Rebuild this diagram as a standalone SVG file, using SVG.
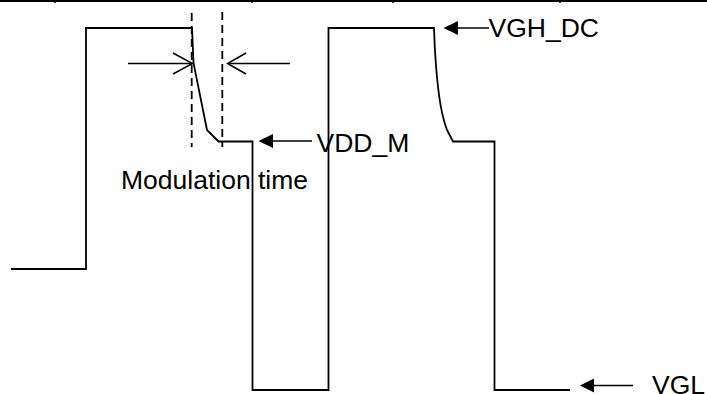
<svg xmlns="http://www.w3.org/2000/svg" width="707" height="394" viewBox="0 0 707 394">
<style>
.w{fill:none;stroke:#000;stroke-width:1.8;stroke-linejoin:miter}
.d{fill:none;stroke:#000;stroke-width:1.8;stroke-dasharray:8,5}
.a{fill:none;stroke:#000;stroke-width:1.5}
.t{font-family:"Liberation Sans",Arial,sans-serif;font-size:26.5px;fill:#000}
</style>
<g id="border">
<line x1="0" y1="1" x2="707" y2="1" stroke="#000" stroke-width="2"/>
<line x1="55" y1="0" x2="55" y2="3" stroke="#000" stroke-width="1.5"/>
<line x1="252" y1="0" x2="252" y2="3" stroke="#000" stroke-width="1.5"/>
<line x1="393" y1="0" x2="393" y2="3" stroke="#000" stroke-width="1.5"/>
<line x1="560" y1="0" x2="560" y2="3" stroke="#000" stroke-width="1.5"/>
</g>
<g id="waveform">
<path class="w" d="M11,269 H86 V28 H192 L193.5,63 L207,130 L218.5,141.5 H252.5 V390 H328.5 V28 H434 C435,60 437,80 439,95 C441,110 444,122 447,130 L453,141.5 H494.5 V390 H570"/>
</g>
<g id="dashes">
<line class="d" x1="191.7" y1="13" x2="191.7" y2="147"/>
<line class="d" x1="222.3" y1="12" x2="222.3" y2="147"/>
</g>
<g id="connectors">
<line class="a" x1="128" y1="63.5" x2="192" y2="63.5"/>
<polyline class="a" points="173,53 192.5,63.5 173,74"/>
<line class="a" x1="290" y1="63.5" x2="228" y2="63.5"/>
<polyline class="a" points="246,53 227.5,63.5 246,74"/>
<line class="a" x1="312" y1="141" x2="272" y2="141"/>
<path d="M258.5,141 L273,134 L273,148 Z" fill="#000"/>
<line class="a" x1="489" y1="28" x2="457" y2="28"/>
<path d="M443.5,28 L458,21 L458,35 Z" fill="#000"/>
<line class="a" x1="633" y1="385.5" x2="593" y2="385.5"/>
<path d="M580,385.5 L594,378.5 L594,392.5 Z" fill="#000"/>
</g>
<g id="labels">
<text class="t" x="121" y="188.5">Modulation time</text>
<text class="t" x="316.5" y="152">VDD_M</text>
<text class="t" x="488.5" y="36.5">VGH_DC</text>
<text class="t" x="652" y="394">VGL</text>
</g>
</svg>
